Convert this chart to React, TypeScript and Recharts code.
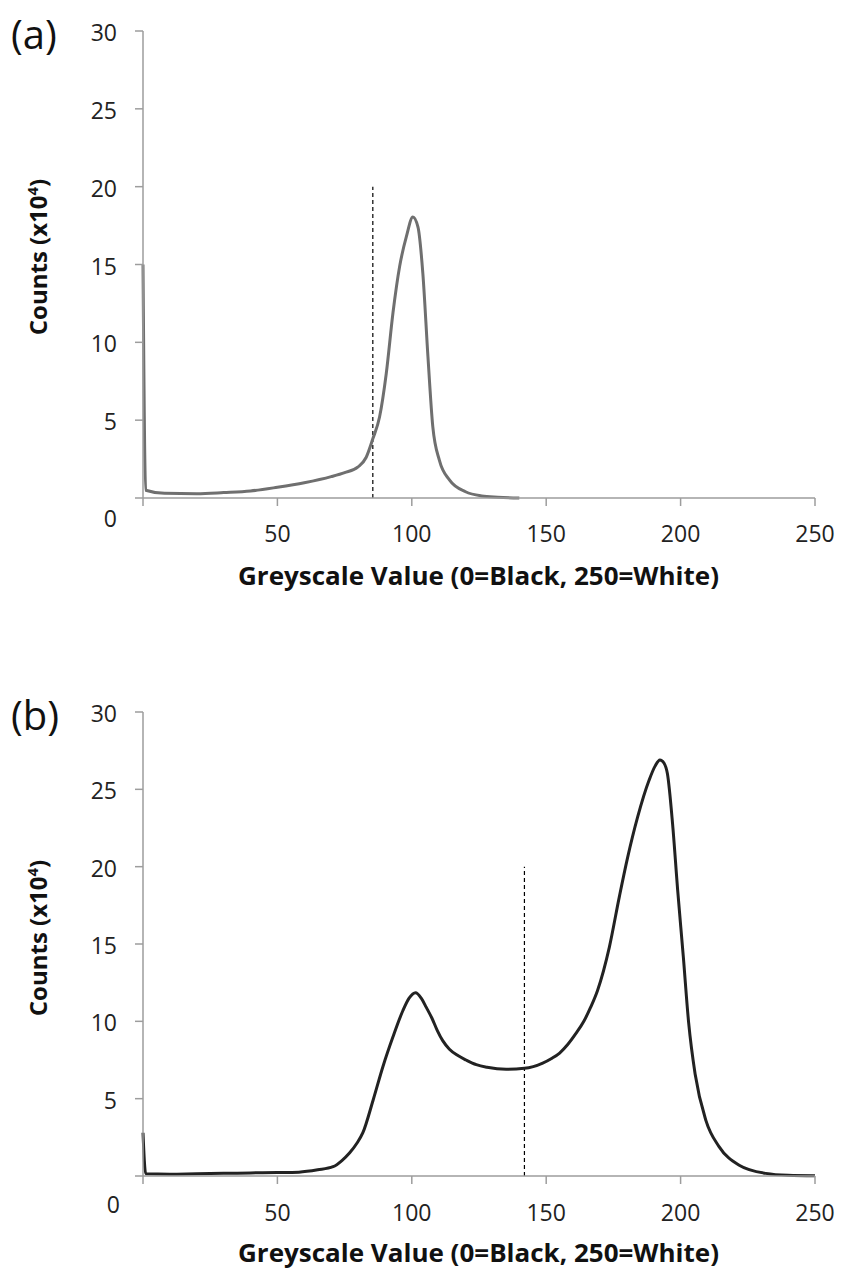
import { LineChart, Line, XAxis, YAxis, ReferenceLine } from "recharts";

// panel (a)
const greyA = [0, 1, 8, 20, 30, 40, 50, 60, 70, 75, 80, 83, 85.5, 88, 90.5, 93, 95.5, 98, 100.4, 102.3, 104.1, 106, 107.8, 110.3, 114, 120, 126, 132, 140];
const countsA = [15, 0.5, 0.3, 0.28, 0.35, 0.45, 0.69, 0.98, 1.37, 1.63, 2.0, 2.6, 3.8, 5.2, 8.0, 11.9, 14.9, 16.8, 18.05, 17.4, 14.45, 9.1, 4.6, 2.4, 1.16, 0.4, 0.13, 0.05, 0];
const thresholdA = 85.5;

// panel (b)
const greyB = [0, 1, 10, 20, 30, 40, 50, 58, 65, 70.7, 74, 76.9, 79.5, 81.8, 85.6, 89.3, 93, 96.7, 99, 101.4, 103.5, 105.4, 107.5, 109.5, 111.5, 114, 117, 120.2, 124, 128, 135.1, 141.9, 148.7, 152, 155, 158, 161, 164, 166.5, 169.1, 173.5, 177.2, 180.3, 184, 188.3, 190.5, 192.3, 193.8, 195.1, 197, 198.9, 201, 203, 205.4, 209.4, 214.3, 221.8, 231.7, 240, 250];
const countsB = [2.8, 0.15, 0.12, 0.15, 0.17, 0.2, 0.22, 0.25, 0.4, 0.6, 1.0, 1.5, 2.1, 2.8, 4.9, 7.1, 9.0, 10.7, 11.5, 11.85, 11.5, 10.9, 10.2, 9.4, 8.75, 8.2, 7.8, 7.5, 7.2, 7.03, 6.9, 6.96, 7.3, 7.6, 7.95, 8.5, 9.2, 10.0, 10.9, 12.0, 14.8, 18.05, 20.6, 23.2, 25.6, 26.5, 26.9, 26.7, 26.0, 22.8, 18.5, 14.2, 9.9, 6.6, 3.6, 1.9, 0.7, 0.17, 0.05, 0.02];
const thresholdB = 141.9;

const xTicks = [0, 50, 100, 150, 200, 250];
const yTicks = [0, 5, 10, 15, 20, 25, 30];
const thresholdTop = 20;

const xTitle = "Greyscale Value (0=Black, 250=White)";

const FONT = "'Open Sans', sans-serif";
const AXIS = "#9d9d9d";

const toRows = (xs: number[], ys: number[]) => xs.map((g, i) => ({ g, c: ys[i] }));

const XTick = (props: any) => {
  const { x, y, payload } = props;
  if (payload.value === 0) return null;
  return (
    <text x={x} y={y} dy="0.71em" textAnchor="middle" fontFamily={FONT} fontSize={23} fill="#222">
      {payload.value}
    </text>
  );
};

const makeYTick = (zeroDy: number, zeroDx: number) => (props: any) => {
  const { x, y, payload } = props;
  const isZero = payload.value === 0;
  return (
    <text
      x={x + (isZero ? zeroDx : 0)}
      y={y + (isZero ? zeroDy : 2)}
      dy="0.355em"
      textAnchor="end"
      fontFamily={FONT}
      fontSize={23}
      fill="#222"
    >
      {payload.value}
    </text>
  );
};

type PanelProps = {
  rows: { g: number; c: number }[];
  threshold: number;
  color: string;
  top: number;
  height: number;
  marginTop: number;
  marginBottom: number;
  xTickMargin: number;
  zeroDy: number;
  zeroDx: number;
};

const Panel = ({ rows, threshold, color, top, height, marginTop, marginBottom, xTickMargin, zeroDy, zeroDx }: PanelProps) => (
  <div style={{ position: "absolute", left: 0, top }}>
    <LineChart
      width={841}
      height={height}
      data={rows}
      margin={{ top: marginTop, right: 26, left: 83, bottom: marginBottom }}
    >
      <XAxis
        dataKey="g"
        type="number"
        domain={[0, 250]}
        ticks={xTicks}
        height={40}
        tickSize={8}
        tickMargin={xTickMargin}
        stroke={AXIS}
        strokeWidth={1.5}
        tick={<XTick />}
      />
      <YAxis
        type="number"
        domain={[0, 30]}
        ticks={yTicks}
        width={60}
        tickSize={8}
        tickMargin={18}
        stroke={AXIS}
        strokeWidth={1.5}
        tick={makeYTick(zeroDy, zeroDx)}
      />
      <ReferenceLine
        segment={[
          { x: threshold, y: 0 },
          { x: threshold, y: thresholdTop },
        ]}
        stroke="#000"
        strokeWidth={1.2}
        strokeDasharray="4 3"
      />
      <Line
        type="monotone"
        dataKey="c"
        stroke={color}
        strokeWidth={3}
        dot={false}
        activeDot={false}
        isAnimationActive={false}
      />
    </LineChart>
  </div>
);

const Texts = () => (
  <svg
    width={841}
    height={1271}
    style={{ position: "absolute", left: 0, top: 0, pointerEvents: "none" }}
  >
    <text x={11} y={49} fontFamily={FONT} fontSize={40} fill="#111">(a)</text>
    <text x={11} y={730} fontFamily={FONT} fontSize={40} fill="#111">(b)</text>

    {[257, 938].map((cy) => (
      <text
        key={cy}
        x={47}
        y={cy}
        transform={`rotate(-90 47 ${cy})`}
        textAnchor="middle"
        fontFamily={FONT}
        fontWeight="bold"
        fontSize={24}
        fill="#111"
      >
        Counts (x10
        <tspan dy={-9} fontSize={15}>4</tspan>
        <tspan dy={9}>)</tspan>
      </text>
    ))}

    {[585, 1262].map((by) => (
      <text
        key={by}
        x={478.5}
        y={by}
        textAnchor="middle"
        textLength={481}
        lengthAdjust="spacingAndGlyphs"
        fontFamily={FONT}
        fontWeight="bold"
        fontSize={25}
        fill="#111"
      >
        {xTitle}
      </text>
    ))}
  </svg>
);

export default function App() {
  return (
    <div style={{ position: "absolute", left: 0, top: 0, width: 841, height: 1271, background: "#fff" }}>
      <Panel
        rows={toRows(greyA, countsA)}
        threshold={thresholdA}
        color="#6f6f6f"
        top={0}
        height={600}
        marginTop={31}
        marginBottom={62}
        xTickMargin={20}
        zeroDy={21}
        zeroDx={0}
      />
      <Panel
        rows={toRows(greyB, countsB)}
        threshold={thresholdB}
        color="#222"
        top={650}
        height={621}
        marginTop={62}
        marginBottom={55}
        xTickMargin={21}
        zeroDy={29}
        zeroDx={3}
      />
      <Texts />
    </div>
  );
}
